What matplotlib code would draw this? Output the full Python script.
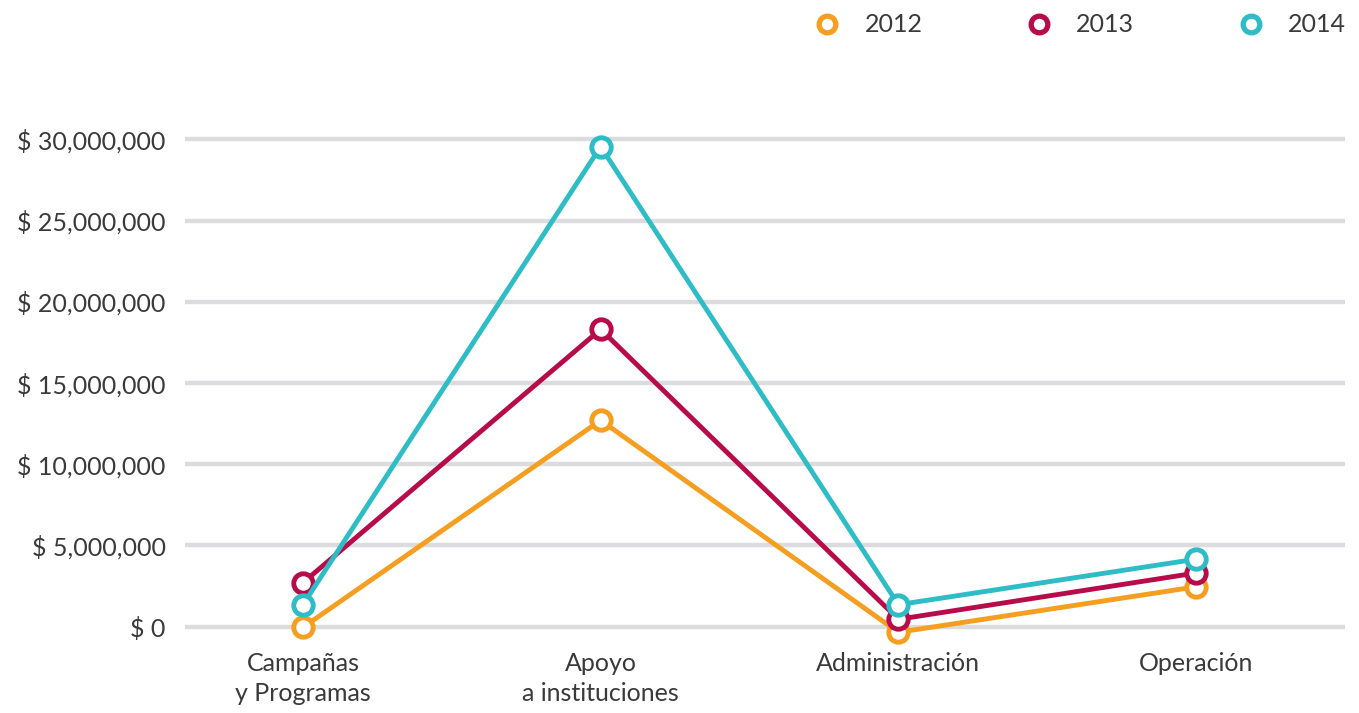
import matplotlib
matplotlib.use("Agg")
import matplotlib.pyplot as plt
from matplotlib.lines import Line2D
from matplotlib.ticker import FuncFormatter

categories = ["Campañas\ny Programas", "Apoyo\na instituciones", "Administración", "Operación"]
years = ["2012", "2013", "2014"]
values_2012 = [-0.05e6, 12.7e6, -0.35e6, 2.45e6]
values_2013 = [2.7e6, 18.3e6, 0.45e6, 3.3e6]
values_2014 = [1.35e6, 29.55e6, 1.35e6, 4.15e6]
colors = ["#F59E1F", "#B80C4A", "#2EBCC6"]
yticks = [0, 5e6, 10e6, 15e6, 20e6, 25e6, 30e6]

plt.rcParams['font.family'] = ['Lato', 'DejaVu Sans']
text_color = "#3A3A3A"

fig = plt.figure(figsize=(13.59, 7.13), dpi=100)
ax = fig.add_axes([185/1359, 0.087, (1345-185)/1359, 0.816-0.087])

x = list(range(len(categories)))
for vals, col, lab in zip([values_2012, values_2013, values_2014], colors, years):
    ax.plot(x, vals, color=col, lw=3.5, marker='o', markersize=14,
            markerfacecolor='white', markeredgecolor=col, markeredgewidth=3.5,
            label=lab, zorder=3, solid_capstyle='round')

ax.set_xlim(-0.396, 3.5)
ax.set_ylim(-1.5e6, 30.5e6)
ax.set_yticks(yticks)
ax.yaxis.set_major_formatter(FuncFormatter(lambda v, p: "$ {:,.0f}".format(v)))
ax.grid(axis='y', color='#DCDCDE', lw=3.2, zorder=0)
ax.set_axisbelow(True)
for s in ax.spines.values():
    s.set_visible(False)
ax.tick_params(axis='y', length=0, pad=14, labelsize=18, labelcolor=text_color)
ax.set_xticks(x)
ax.set_xticklabels(categories, fontsize=18, color=text_color, linespacing=1.35)
ax.tick_params(axis='x', length=0, pad=1)

handles = [Line2D([], [], ls='none', marker='o', markersize=12, markerfacecolor='white',
                  markeredgecolor=c, markeredgewidth=3.8) for c in colors]
leg = fig.legend(handles, years, loc='center right', bbox_to_anchor=(1346/1359, 1 - 25/713),
                 ncol=3, frameon=False, fontsize=18, handlelength=1.0, handletextpad=1.0,
                 columnspacing=4.15, borderaxespad=0, borderpad=0)
for t in leg.get_texts():
    t.set_color(text_color)

fig.savefig("out.png", dpi=100)
